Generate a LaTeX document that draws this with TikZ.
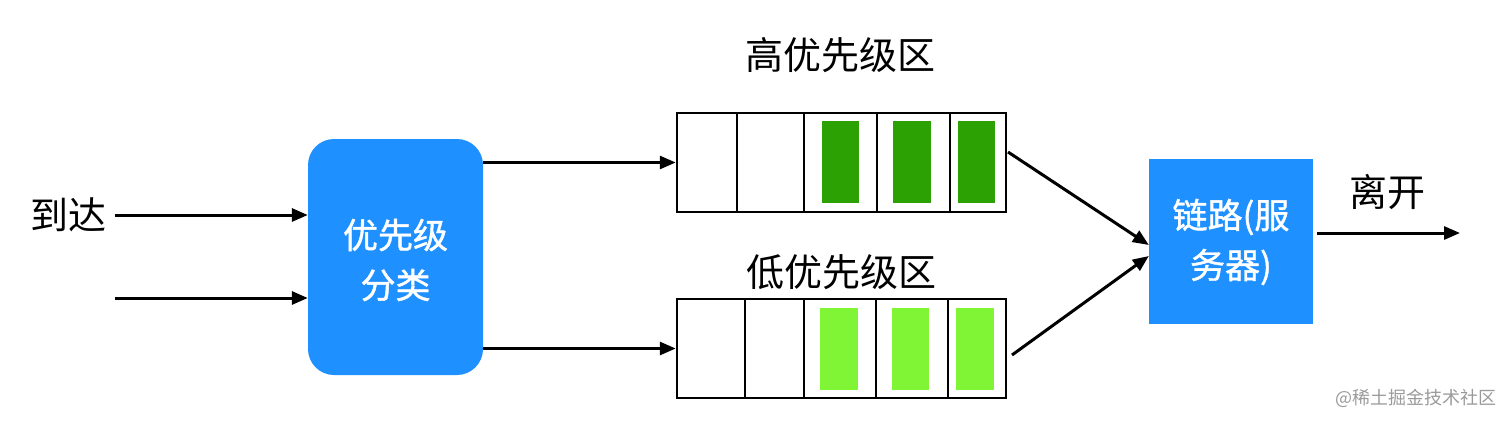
\documentclass[tikz,border=0pt]{standalone}
\usepackage{fontspec}
\setmainfont{Noto Sans CJK SC}
\newfontfamily\medfont{Noto Sans CJK SC}[BoldFont={Noto Sans CJK SC},BoldFeatures={FakeBold=1.2}]
\usetikzlibrary{arrows.meta}
\definecolor{boxblue}{HTML}{1E90FF}
\definecolor{darkg}{HTML}{2CA104}
\definecolor{lightg}{HTML}{80F535}
\definecolor{wmgray}{HTML}{9A9A9A}
\tikzset{
  arr/.style={line width=3pt,-{Triangle[length=16pt,width=13pt]}},
  lbl/.style={font=\fontsize{38}{44}\selectfont,inner sep=0pt},
  wlbl/.style={font=\medfont\bfseries\fontsize{35}{50}\selectfont,text=white,align=center,inner sep=0pt},
  qbox/.style={draw=black,line width=2.5pt,inner sep=0pt},
  cell/.style={line width=2.5pt},
  gd/.style={fill=darkg},
  gl/.style={fill=lightg},
}
\begin{document}
\begin{tikzpicture}[x=1pt,y=-1pt]
\useasboundingbox (0,0) rectangle (1512,423);
% classifier
\node[fill=boxblue,rounded corners=26pt,minimum width=175pt,minimum height=236pt,inner sep=0pt] (cls) at (395.5,257) {};
\node[wlbl] (clst) at (395.5,260) {优先级\\分类};
% arrival
\node[lbl,anchor=east] (arr) at (107,215) {到达};
\coordinate (in1) at (115,215);
\coordinate (in2) at (115,298);
\draw[arr] (in1) -- (cls.west |- in1);
\draw[arr] (in2) -- (cls.west |- in2);
% high queue
\node[qbox,minimum width=329pt,minimum height=99pt] (qh) at (841.5,162.5) {};
\foreach \x in {737,804,877,950} \draw[cell] (\x,113) -- (\x,212);
\fill[gd] (822,121) rectangle (859,203);
\fill[gd] (893,121) rectangle (931,203);
\fill[gd] (958,121) rectangle (995,203);
\node[lbl] (qht) at (840,55) {高优先级区};
% low queue
\node[qbox,minimum width=329pt,minimum height=99pt] (ql) at (841.5,348.5) {};
\foreach \x in {745,804,876,948} \draw[cell] (\x,299) -- (\x,398);
\fill[gl] (820,308) rectangle (858,390);
\fill[gl] (892,308) rectangle (929,390);
\fill[gl] (956,308) rectangle (994,390);
\node[lbl] (qlt) at (841,272) {低优先级区};
% classifier to queues
\draw[arr] (cls.east |- qh.west) -- (qh.west);
\draw[arr] (cls.east |- ql.west) -- (ql.west);
% link
\node[fill=boxblue,minimum width=164pt,minimum height=165pt,inner sep=0pt] (lnk) at (1231,241.5) {};
\node[wlbl] (lnkt) at (1231,242) {链路(服\\务器)};
\coordinate (h1) at (1008,152);
\coordinate (l1) at (1012,355);
\draw[arr] (h1) -- (lnk.west |- 0,245);
\draw[arr] (l1) -- (lnk.west |- 0,256);
% out
\coordinate (out) at (1460,233);
\draw[arr] (lnk.east |- out) ++(4,0) -- (out);
\node[lbl] (outt) at (1387,192) {离开};
% watermark
\node[font=\fontsize{18}{20}\selectfont,text=wmgray,anchor=east,inner sep=0pt] (wm) at (1497,398) {@稀土掘金技术社区};
\end{tikzpicture}
\end{document}
